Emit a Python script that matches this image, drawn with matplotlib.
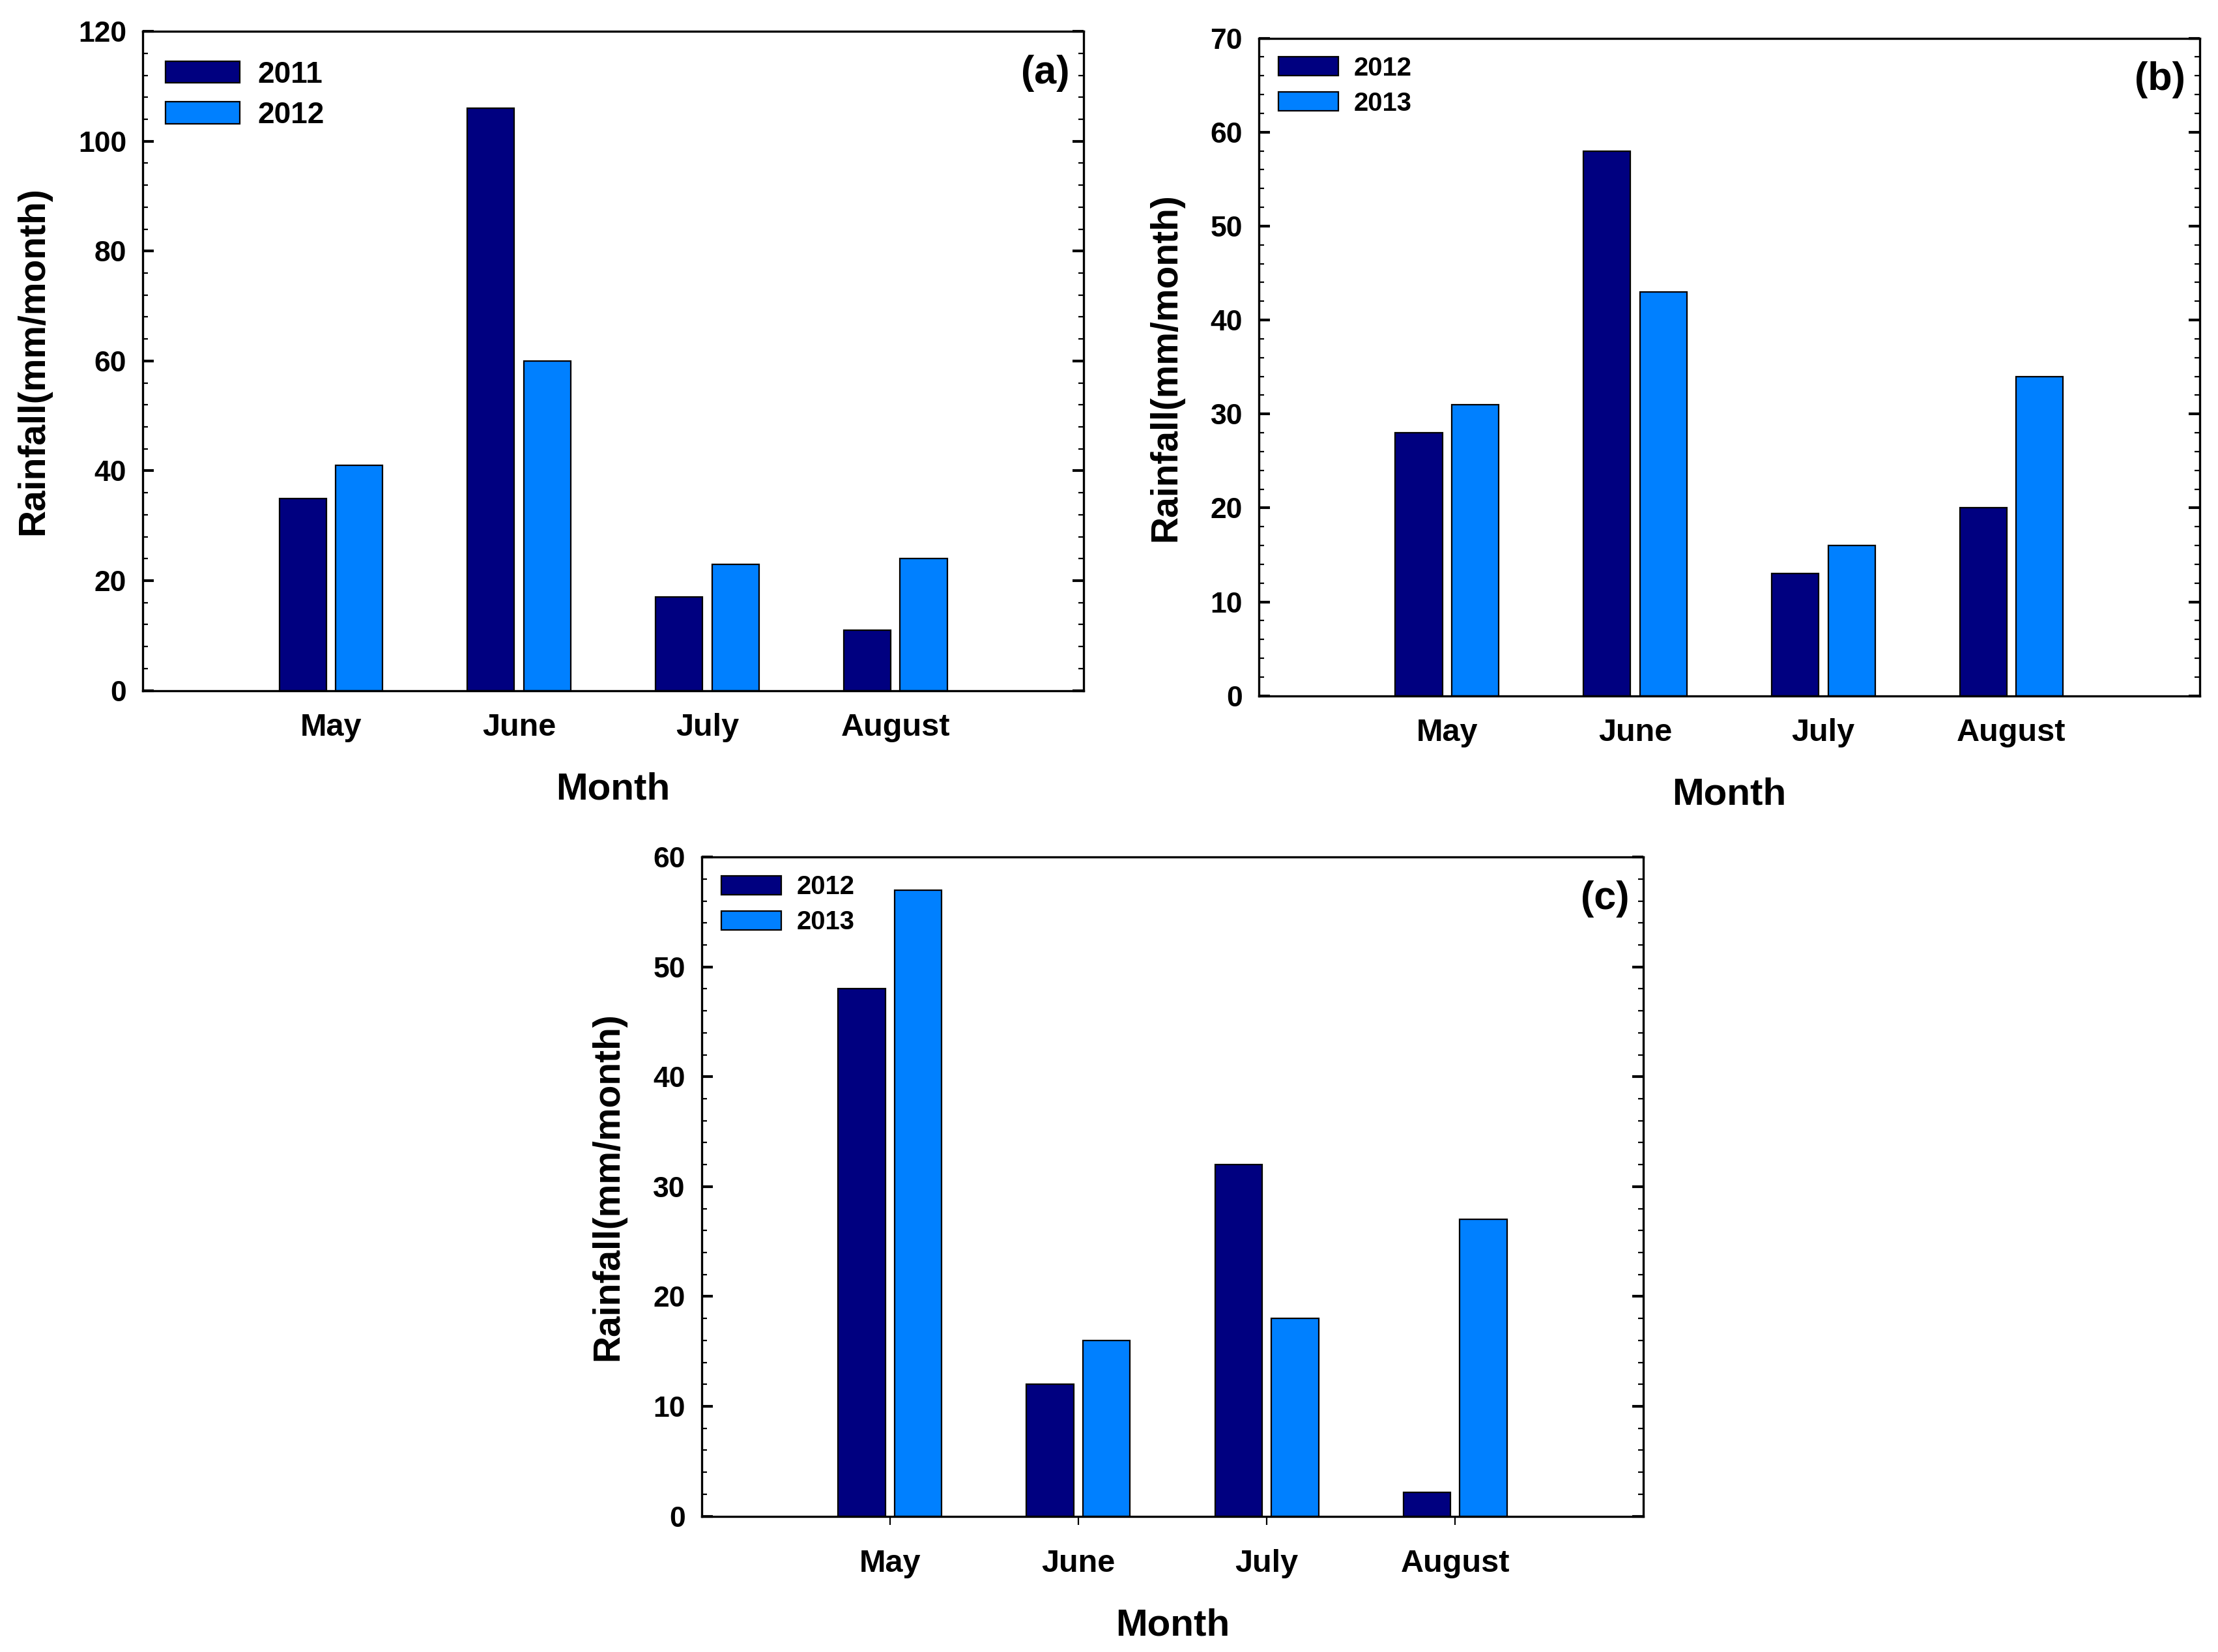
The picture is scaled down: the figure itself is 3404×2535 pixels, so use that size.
import matplotlib
matplotlib.use('Agg')
import matplotlib.pyplot as plt
from matplotlib.ticker import MultipleLocator
import numpy as np

months = ['May', 'June', 'July', 'August']

# panel (a)
a_years = ['2011', '2012']
a_first = [35, 106, 17, 11]
a_second = [41, 60, 23, 24]

# panel (b)
b_years = ['2012', '2013']
b_first = [28, 58, 13, 20]
b_second = [31, 43, 16, 34]

# panel (c)
c_years = ['2012', '2013']
c_first = [48, 12, 32, 2.2]
c_second = [57, 16, 18, 27]

dark = '#000080'
light = '#0080FF'
fam = ['Liberation Sans', 'DejaVu Sans']

fig = plt.figure(figsize=(17.02, 12.675), dpi=200)


def panel(rect, first, second, years, ymax, major, minor, tag, legsize, legy, hlen, xticks_out):
    ax = fig.add_axes(rect)
    x = np.arange(1, len(months) + 1)
    ax.bar(x - 0.15, first, width=0.25, color=dark, edgecolor='black', linewidth=0.8, label=years[0])
    ax.bar(x + 0.15, second, width=0.25, color=light, edgecolor='black', linewidth=0.8, label=years[1])
    ax.set_xlim(0, 5)
    ax.set_ylim(0, ymax)
    ax.set_xticks(x)
    ax.set_xticklabels(months)
    ax.yaxis.set_major_locator(MultipleLocator(major))
    ax.yaxis.set_minor_locator(MultipleLocator(minor))
    for s in ax.spines.values():
        s.set_linewidth(1.2)
    ax.tick_params(axis='y', which='major', direction='in', left=True, right=True, length=6, width=1.5, pad=9)
    ax.tick_params(axis='y', which='minor', direction='in', left=True, right=True, length=3, width=0.8)
    if xticks_out:
        ax.tick_params(axis='x', which='major', direction='out', length=4.7, width=0.8, pad=13.5)
    else:
        ax.tick_params(axis='x', which='major', length=0, pad=12.3)
    for lab in ax.get_yticklabels():
        lab.set_family(fam)
        lab.set_fontweight('bold')
        lab.set_fontsize(16)
    for lab in ax.get_xticklabels():
        lab.set_family(fam)
        lab.set_fontweight('bold')
        lab.set_fontsize(17.5)
    ax.set_xlabel('Month', family=fam, fontweight='bold', fontsize=21, labelpad=16.3)
    ax.set_ylabel('Rainfall(mm/month)', family=fam, fontweight='bold', fontsize=20.5, labelpad=15)
    ax.text(0.985, 0.965, tag, transform=ax.transAxes, ha='right', va='top',
            family=fam, fontweight='bold', fontsize=22)
    ax.legend(loc='upper left', frameon=False,
              prop={'family': fam, 'weight': 'bold', 'size': legsize},
              handlelength=hlen, handleheight=0.75, handletextpad=0.6, labelspacing=0.4,
              borderaxespad=0.35, bbox_to_anchor=(0.0, legy))
    return ax


panel([0.0644, 0.582, 0.4241, 0.399], a_first, a_second, a_years, 120, 20, 4, '(a)', 16.5, 0.99, 2.5, False)
panel([0.5676, 0.5788, 0.4241, 0.3981], b_first, b_second, b_years, 70, 10, 2, '(b)', 14.4, 1.003, 2.3, False)
panel([0.3163, 0.0822, 0.4247, 0.399], c_first, c_second, c_years, 60, 10, 2, '(c)', 14.4, 1.003, 2.3, True)

fig.savefig('out.png', dpi=200)
